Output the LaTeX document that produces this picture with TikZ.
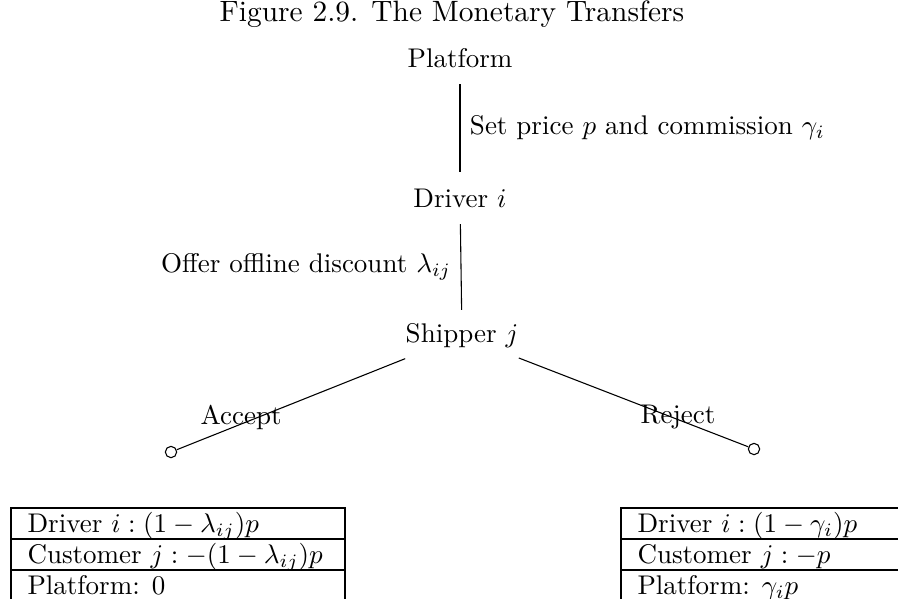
\documentclass[tikz,border=0pt]{standalone}
\usepackage{amsmath}
\begin{document}
\begin{tikzpicture}[x=0.3704pt,y=-0.3704pt,
  player/.style={inner sep=0pt, minimum height=19pt},
  edgelbl/.style={inner sep=3.5pt},
  term/.style={circle, draw, line width=0.4pt, minimum size=4.2pt, inner sep=0pt},
  tree/.style={line width=0.4pt},
  cell/.style={draw, line width=0.8pt, minimum width=123.7pt, minimum height=11.3pt, inner sep=0pt, anchor=north west},
  celltext/.style={anchor=base west, inner sep=0pt, xshift=6.3pt, yshift=2.6pt}]
\useasboundingbox (0,0) rectangle (898,598);
\clip (0,0) rectangle (898,598);

% caption
\node[font=\fontsize{10.9}{13}\selectfont] (title) at (452,14) {Figure 2.9. The Monetary Transfers};

% decision nodes
\node[player] (plat) at (460,58) {Platform};
\node[player] (drv) at (460,198) {Driver $i$};
\node[player] (ship) at (462,336) {Shipper $j$};

% terminal nodes
\node[term] (acc) at (171,452) {};
\node[term] (rej) at (754,449) {};

% moves
\draw[tree] (plat) -- node[edgelbl, right] {Set price $p$ and commission $\gamma_i$} (drv);
\draw[tree] (drv) -- node[edgelbl, left] {Offer offline discount $\lambda_{ij}$} (ship);
\draw[tree] (ship) -- (acc);
\draw[tree] (ship) -- (rej);
\node (acclbl) at (241,417) {Accept};
\node (rejlbl) at (678,417) {Reject};

% payoffs after accepting
\node[cell] (a1) at (10,507) {};
\node[cell] (a2) at (10,538) {};
\node[cell] (a3) at (10,568.5) {};
\node[celltext] at (a1.south west) {Driver $i:(1-\lambda_{ij})p$};
\node[celltext] at (a2.south west) {Customer $j:-(1-\lambda_{ij})p$};
\node[celltext] at (a3.south west) {Platform: 0};

% payoffs after rejecting
\node[cell] (r1) at (620,507) {};
\node[cell] (r2) at (620,538) {};
\node[cell] (r3) at (620,568.5) {};
\node[celltext] at (r1.south west) {Driver $i:(1-\gamma_i)p$};
\node[celltext] at (r2.south west) {Customer $j:-p$};
\node[celltext] at (r3.south west) {Platform: $\gamma_ip$};
\end{tikzpicture}
\end{document}
